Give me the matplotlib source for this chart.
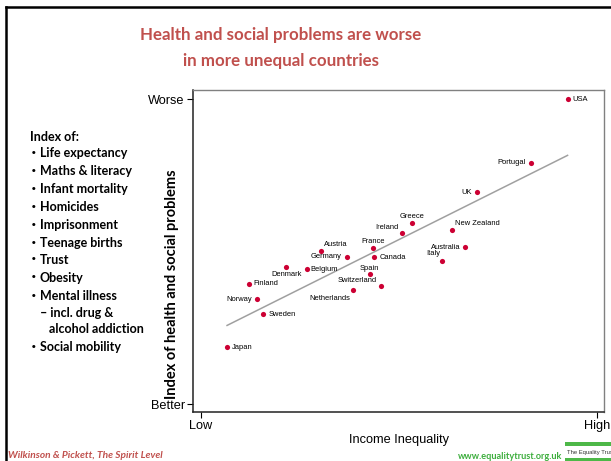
import matplotlib
matplotlib.use("Agg")
import matplotlib.pyplot as plt
import numpy as np
from matplotlib.lines import Line2D
from matplotlib.patches import Rectangle

# Countries, income inequality (x, Low=0 .. High=100) and index of problems (y, Better=0 .. Worse=100)
countries = ["USA", "Portugal", "UK", "Greece", "Ireland", "New Zealand", "Australia",
             "Italy", "France", "Canada", "Austria", "Germany", "Denmark", "Belgium",
             "Spain", "Switzerland", "Netherlands", "Finland", "Norway", "Sweden", "Japan"]
inequality = [92.6, 83.3, 69.7, 53.4, 50.8, 63.3, 66.7, 60.9, 43.4, 43.8, 30.4, 36.8,
              21.6, 26.7, 42.6, 45.5, 38.3, 12.1, 14.2, 15.8, 6.6]
problems = [100.0, 79.2, 69.4, 59.3, 56.2, 57.0, 51.5, 47.0, 51.1, 48.2, 50.2, 48.3,
            45.1, 44.2, 42.6, 38.8, 37.5, 39.4, 34.3, 29.4, 18.7]

x_ticks = [0, 100]
x_ticklabels = ["Low", "High"]
y_ticks = [0, 100]
y_ticklabels = ["Better", "Worse"]

index_items = ["Life expectancy", "Maths & literacy", "Infant mortality", "Homicides",
               "Imprisonment", "Teenage births", "Trust", "Obesity", "Mental illness",
               None, None, "Social mobility"]

# label placement: (dx, dy) in pixels, horizontal alignment
label_pos = {
    "USA": (5, 0, "left"), "Portugal": (-5, 0, "right"), "UK": (-5, 0, "right"),
    "Greece": (0, 7, "center"), "Ireland": (-4, 5, "right"), "New Zealand": (3, 7, "left"),
    "Australia": (-4, 0, "right"), "Italy": (-2, 7, "right"), "France": (0, 7, "center"),
    "Canada": (5, 0, "left"), "Austria": (3, 7, "left"), "Germany": (-5, 0, "right"),
    "Denmark": (0, -8, "center"), "Belgium": (4, 0, "left"), "Spain": (0, 6, "center"),
    "Switzerland": (-4, 5, "right"), "Netherlands": (-2, -9, "right"),
    "Finland": (5, 0, "left"), "Norway": (-5, 0, "right"), "Sweden": (5, 0, "left"),
    "Japan": (5, 0, "left"),
}

RED = "#C0504D"
DOT = "#CC0033"
GREEN = "#3DAE3D"
SANS = "Liberation Sans"
SLIDE = "Lato"

W, H = 611, 461
fig = plt.figure(figsize=(W / 100, H / 100), dpi=100)
fig.patch.set_facecolor("white")

ax = fig.add_axes([193 / W, 1 - 412 / H, 411 / W, 322 / H])
x = np.array(inequality)
y = np.array(problems)

# least squares trend line across the range of countries
slope, icpt = np.polyfit(x, y, 1)
xs = np.array([x.min(), x.max()])
ax.plot(xs, slope * xs + icpt, color="#A0A0A0", lw=1.1, zorder=1)

ax.scatter(x, y, s=14, color=DOT, zorder=3, linewidths=0)
for name, xi, yi in zip(countries, x, y):
    dx, dy, ha = label_pos[name]
    ax.annotate(name, (xi, yi), xytext=(dx, dy), textcoords="offset pixels",
                ha=ha, va="center", fontsize=5.4, family=SANS, zorder=4)

ax.set_xlim(-2.0, 101.8)
ax.set_ylim(-2.6, 103.0)
ax.set_xticks(x_ticks, x_ticklabels, fontsize=9.2, family=SANS)
ax.set_yticks(y_ticks, y_ticklabels, fontsize=9.2, family=SANS)
ax.tick_params(direction="out", length=4, width=0.8, pad=2)
for s in ("left", "bottom"):
    ax.spines[s].set_color("#222222")
    ax.spines[s].set_linewidth(1.1)
for s in ("top", "right"):
    ax.spines[s].set_color("#808080")
    ax.spines[s].set_linewidth(1.0)

ax.set_xlabel("Income Inequality", fontsize=9.2, family=SANS, labelpad=1)
fig.text(172 / W, 1 - 284 / H, "Index of health and social problems", rotation=90,
         ha="center", va="center", fontsize=10.5, fontweight="bold", family=SLIDE)

# title
fig.text(281 / W, 1 - 35 / H, "Health and social problems are worse",
         ha="center", va="center", fontsize=12.2, fontweight="bold", color=RED, family=SLIDE)
fig.text(281 / W, 1 - 61 / H, "in more unequal countries",
         ha="center", va="center", fontsize=12.2, fontweight="bold", color=RED, family=SLIDE)

# list of components of the index
fs_list = 9
fig.text(30 / W, 1 - 137 / H, "Index of:", ha="left", va="center",
         fontsize=fs_list, fontweight="bold", family=SLIDE)
row_y = [153, 171, 189, 207, 225, 243, 260, 278, 296, 313, 329, 347]
for item, ry in zip(index_items, row_y):
    if item is None:
        continue
    fig.text(31 / W, 1 - ry / H, "\u2022", ha="left", va="center",
             fontsize=6.5, fontweight="bold", family="DejaVu Sans")
    fig.text(40 / W, 1 - ry / H, item, ha="left", va="center",
             fontsize=fs_list, fontweight="bold", family=SLIDE)
fig.text(40 / W, 1 - 313 / H, "\u2013 incl. drug &", ha="left", va="center",
         fontsize=fs_list, fontweight="bold", family=SLIDE)
fig.text(49 / W, 1 - 329 / H, "alcohol addiction", ha="left", va="center",
         fontsize=fs_list, fontweight="bold", family=SLIDE)

# footer
fig.text(8 / W, 1 - 455 / H, "Wilkinson & Pickett, The Spirit Level", ha="left", va="center",
         fontsize=7.3, fontweight="bold", style="italic", color=RED, family=SLIDE)
fig.text(510 / W, 1 - 456 / H, "www.equalitytrust.org.uk", ha="center", va="center",
         fontsize=6.6, fontweight="bold", color=GREEN, family=SLIDE)
fig.patches.append(Rectangle((565 / W, 1 - 446 / H), 46 / W, 4 / H,
                             transform=fig.transFigure, color="#4DB848", lw=0))
fig.patches.append(Rectangle((565 / W, 0), 46 / W, 3 / H,
                             transform=fig.transFigure, color="#4DB848", lw=0))
fig.text(567 / W, 1 - 452 / H, "The Equality Trust", ha="left", va="center",
         fontsize=4.2, color="#333333", family=SANS)

# slide frame
fig.lines.append(Line2D([6 / W, 6 / W], [0, 1 - 7 / H], transform=fig.transFigure,
                        color="black", lw=1.8))
fig.lines.append(Line2D([6 / W, 1], [1 - 7 / H, 1 - 7 / H], transform=fig.transFigure,
                        color="black", lw=1.8))

fig.savefig("out.png", dpi=100)
